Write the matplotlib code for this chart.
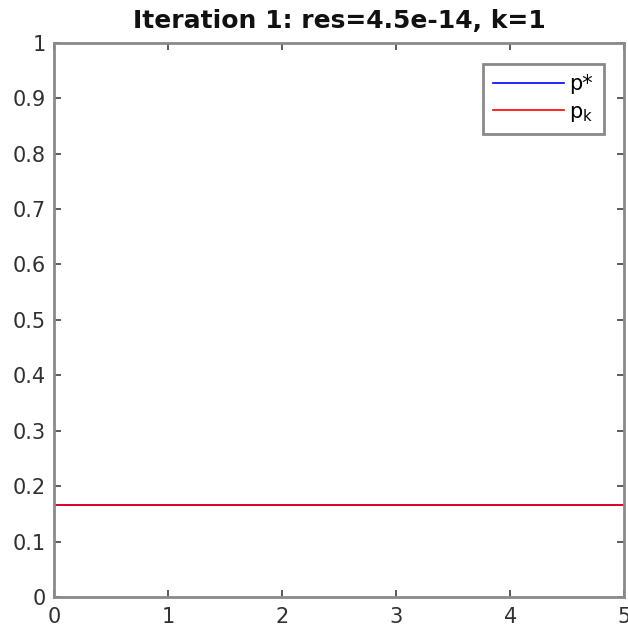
import matplotlib
matplotlib.use('Agg')
import matplotlib.pyplot as plt

# values
x = [0, 1, 2, 3, 4, 5]
p_star = [0.1667, 0.1667, 0.1667, 0.1667, 0.1667, 0.1667]
p_k = [0.1667, 0.1667, 0.1667, 0.1667, 0.1667, 0.1667]
x_ticks = [0, 1, 2, 3, 4, 5]
y_ticks = [0, 0.1, 0.2, 0.3, 0.4, 0.5, 0.6, 0.7, 0.8, 0.9, 1]
y_labels = ['0', '0.1', '0.2', '0.3', '0.4', '0.5', '0.6', '0.7', '0.8', '0.9', '1']
title = 'Iteration 1: res=4.5e-14, k=1'

plt.rcParams['font.family'] = 'DejaVu Sans'
fig = plt.figure(figsize=(6.28, 6.29), dpi=100)
ax = fig.add_axes([0.086, 0.051, 0.908, 0.881])

ax.plot(x, p_star, color='#0000ff', lw=1.2, label='p*')
ax.plot(x, p_k, color='#ff0000', lw=1.2, label='$\\mathregular{p_k}$')

ax.set_xlim(0, 5)
ax.set_ylim(0, 1)
ax.set_xticks(x_ticks)
ax.set_yticks(y_ticks)
ax.set_yticklabels(y_labels)

frame = '#8a8a8a'
for s in ax.spines.values():
    s.set_color(frame)
    s.set_linewidth(2)
ax.tick_params(direction='in', top=True, right=True, length=5, width=1.2,
               color='#404040', labelsize=15, labelcolor='#303030')
ax.tick_params(axis='y', pad=6)
ax.tick_params(axis='x', pad=7)

ax.set_title(title, fontsize=18, fontweight='bold', color='#111111', pad=10.5)

leg = ax.legend(loc='upper right', bbox_to_anchor=(0.964, 0.962), fontsize=15,
                fancybox=False, framealpha=1, handlelength=3.4,
                borderpad=0.5, labelspacing=0.35, handletextpad=0.25,
                borderaxespad=0)
leg.get_frame().set_edgecolor(frame)
leg.get_frame().set_linewidth(2)

plt.savefig('out.png', dpi=100)
plt.close()
